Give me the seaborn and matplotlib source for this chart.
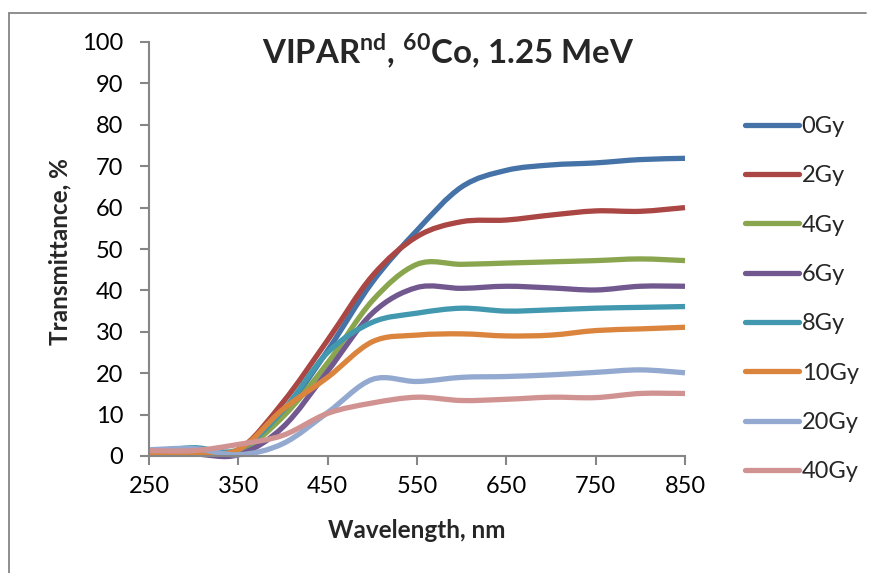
import numpy as np
import pandas as pd
import seaborn as sns
import matplotlib
matplotlib.use("Agg")
import matplotlib.pyplot as plt
from matplotlib.path import Path
from matplotlib.patches import PathPatch
from matplotlib.lines import Line2D

# Transmittance spectra of VIPARnd gel after 60Co irradiation
wavelength = [250, 300, 350, 400, 450, 500, 550, 600, 650, 700, 750, 800, 850]
doses = ["0Gy", "2Gy", "4Gy", "6Gy", "8Gy", "10Gy", "20Gy", "40Gy"]

t_0gy = [0.5, 0.8, 1.0, 10.5, 25.5, 42.0, 54.5, 65.0, 69.0, 70.3, 70.8, 71.6, 71.9]
t_2gy = [0.5, 0.5, 1.5, 13.0, 28.0, 43.5, 53.0, 56.6, 57.0, 58.2, 59.2, 59.1, 60.0]
t_4gy = [0.5, 0.7, 1.0, 9.5, 22.5, 37.5, 46.3, 46.3, 46.6, 46.9, 47.2, 47.6, 47.2]
t_6gy = [0.5, 0.5, 0.3, 7.0, 20.5, 34.5, 40.7, 40.5, 41.0, 40.6, 40.1, 41.0, 41.0]
t_8gy = [1.0, 2.0, 1.5, 11.0, 25.0, 32.3, 34.5, 35.7, 35.0, 35.3, 35.7, 35.9, 36.1]
t_10gy = [0.7, 0.8, 1.5, 11.3, 19.0, 27.6, 29.2, 29.5, 29.0, 29.2, 30.3, 30.7, 31.1]
t_20gy = [1.5, 1.8, 0.3, 3.0, 10.5, 18.5, 18.0, 19.0, 19.2, 19.6, 20.2, 20.8, 20.1]
t_40gy = [1.3, 1.3, 2.8, 5.0, 10.3, 12.8, 14.2, 13.4, 13.7, 14.2, 14.1, 15.1, 15.1]

series = [t_0gy, t_2gy, t_4gy, t_6gy, t_8gy, t_10gy, t_20gy, t_40gy]
colors = ["#4572A7", "#AA4643", "#89A54E", "#71588F",
          "#4198AF", "#DB843D", "#93A9CF", "#D19392"]

x_ticks = [250, 350, 450, 550, 650, 750, 850]
y_ticks = list(range(0, 101, 10))

sns.set_theme(style="white")
plt.rcParams["font.family"] = ["Lato", "DejaVu Sans"]
plt.rcParams["mathtext.fontset"] = "custom"
plt.rcParams["mathtext.rm"] = "Lato:bold"
plt.rcParams["mathtext.bf"] = "Lato:bold"

W, H = 873, 573
AXIS_GRAY = "#868686"
fig = plt.figure(figsize=(W / 100, H / 100), dpi=100)
fig.patch.set_facecolor("white")
ax = fig.add_axes([149 / W, 1 - 456 / H, 536 / W, 414 / H])

df = pd.DataFrame({
    "wavelength": wavelength * len(doses),
    "transmittance": [v for s in series for v in s],
    "dose": [d for d in doses for _ in wavelength],
})

sns.lineplot(data=df, x="wavelength", y="transmittance", hue="dose",
             hue_order=doses, palette=colors, linewidth=3.8,
             legend=False, sort=False, ax=ax)


def smooth_path(x, y):
    """Cubic Bezier path through the points (Catmull-Rom tangents)."""
    pts = np.column_stack([x, y]).astype(float)
    n = len(pts)
    verts = [pts[0]]
    codes = [Path.MOVETO]
    for i in range(n - 1):
        p_prev = pts[max(i - 1, 0)]
        p0, p1 = pts[i], pts[i + 1]
        p_next = pts[min(i + 2, n - 1)]
        c1 = p0 + (p1 - p_prev) / 6.0
        c2 = p1 - (p_next - p0) / 6.0
        verts += [c1, c2, p1]
        codes += [Path.CURVE4] * 3
    return Path(verts, codes)


for line in list(ax.lines):
    patch = PathPatch(smooth_path(line.get_xdata(), line.get_ydata()),
                      facecolor="none", edgecolor=line.get_color(),
                      lw=line.get_linewidth(), capstyle="butt",
                      joinstyle="round", clip_on=False)
    ax.add_patch(patch)
    line.remove()

ax.set_xlim(250, 850)
ax.set_ylim(0, 100)
ax.set_xticks(x_ticks)
ax.set_yticks(y_ticks)
ax.set_xlabel("")
ax.set_ylabel("")
for side in ("top", "right"):
    ax.spines[side].set_visible(False)
for side in ("left", "bottom"):
    ax.spines[side].set_color(AXIS_GRAY)
    ax.spines[side].set_linewidth(1.5)
ax.tick_params(axis="both", which="major", direction="out", length=6.5,
               width=1.5, color=AXIS_GRAY, labelsize=17, labelcolor="black")
ax.tick_params(axis="y", pad=12, left=True)
ax.tick_params(axis="x", pad=8, bottom=True)

# Axis titles and chart title
fig.text(60 / W, 1 - 252 / H, "Transmittance, %", rotation=90,
         ha="center", va="center", fontsize=17.5, fontweight="bold")
fig.text(417 / W, 1 - 530 / H, "Wavelength, nm",
         ha="center", va="center", fontsize=17.5, fontweight="bold")
fig.text(448 / W, 1 - 63 / H,
         r"VIPAR$^{\mathrm{nd}}$, $^{\mathrm{60}}$Co, 1.25 MeV",
         ha="center", va="baseline", fontsize=23.8, fontweight="bold")

# Legend
handles = [Line2D([], [], color=c, lw=3.8, solid_capstyle="round") for c in colors]
fig.legend(handles, doses, loc="upper left",
           bbox_to_anchor=(745 / W, 1 - 116 / H), frameon=False,
           fontsize=17, handlelength=2.3, handletextpad=0.1,
           labelspacing=1.2, borderpad=0, borderaxespad=0)

# Chart area border
fig.add_artist(Line2D([9 / W, 9 / W], [0, 1 - 13 / H],
                      transform=fig.transFigure, color=AXIS_GRAY, lw=1.3))
fig.add_artist(Line2D([9 / W, 866 / W], [1 - 13 / H, 1 - 13 / H],
                      transform=fig.transFigure, color=AXIS_GRAY, lw=1.3))

fig.savefig("out.png", dpi=100, facecolor="white")
